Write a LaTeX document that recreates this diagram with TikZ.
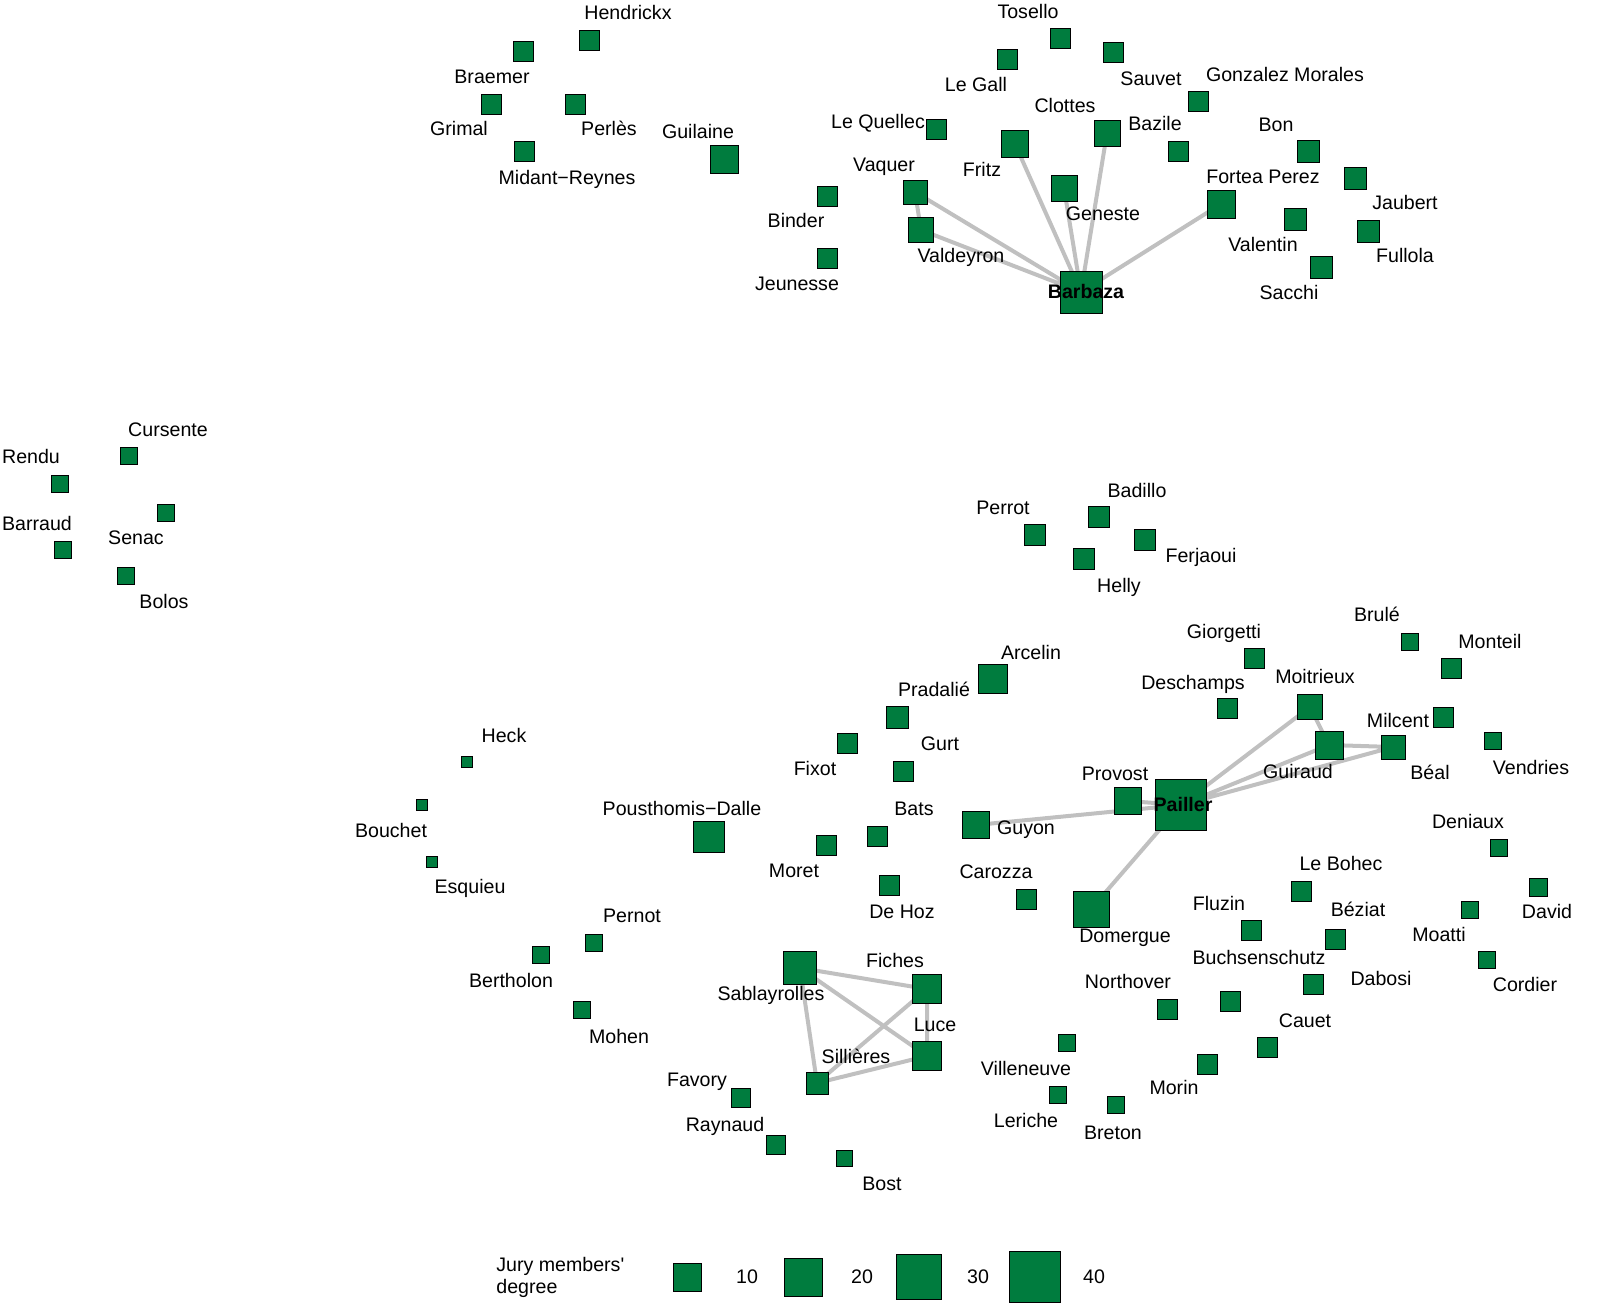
\documentclass[tikz,border=0pt]{standalone}
\usepackage{fontspec}
\setmainfont{Liberation Sans}
\usetikzlibrary{backgrounds}
\definecolor{jurygreen}{RGB}{0,124,62}
\definecolor{tiegray}{RGB}{192,192,192}
\tikzset{
  jury/.style={rectangle, draw=black, line width=0.5pt, fill=jurygreen, inner sep=0pt, minimum size=#1*0.5pt},
  lab/.style={font=\fontsize{9.8}{11}\selectfont, inner sep=0pt, text height=6pt, text depth=0pt},
  boss/.style={lab, font=\fontsize{9.8}{11}\selectfont\bfseries},
  tie/.style={draw=tiegray, line width=2pt}
}
\begin{document}
\begin{tikzpicture}[x=0.5pt, y=-0.5pt]
  \useasboundingbox (0,0) rectangle (1603,1307);

  % Top left group
  \node[jury=20] (hendrickx) at (589,40) {};   \node[lab] at (628,13) {Hendrickx};
  \node[jury=20] (braemer) at (523,51) {};     \node[lab] at (492,77) {Braemer};
  \node[jury=20] (grimal) at (491,104) {};     \node[lab] at (459,129) {Grimal};
  \node[jury=20] (perles) at (575,104) {};     \node[lab] at (609,129) {Perlès};
  \node[jury=20] (midant) at (524,151) {};     \node[lab] at (567,178) {Midant−Reynes};
  \node[jury=28] (guilaine) at (724,159) {};   \node[lab] at (698,132) {Guilaine};
  \node[jury=20] (binder) at (827,196) {};     \node[lab] at (796,221) {Binder};
  \node[jury=20] (jeunesse) at (827,258) {};   \node[lab] at (797,284) {Jeunesse};

  % Barbaza group
  \node[jury=20] (tosello) at (1060,38) {};    \node[lab] at (1028,12) {Tosello};
  \node[jury=20] (legall) at (1007,59) {};     \node[lab] at (976,85) {Le Gall};
  \node[jury=20] (sauvet) at (1113,52) {};     \node[lab] at (1151,79) {Sauvet};
  \node[jury=20] (gonzalez) at (1198,101) {};  \node[lab] at (1285,75) {Gonzalez Morales};
  \node[jury=20] (lequellec) at (936,129) {};  \node[lab] at (878,122) {Le Quellec};
  \node[jury=27] (fritz) at (1015,144) {};     \node[lab] at (982,170) {Fritz};
  \node[jury=26] (clottes) at (1107,133) {};   \node[lab] at (1065,106) {Clottes};
  \node[jury=20] (bazile) at (1178,151) {};    \node[lab] at (1155,124) {Bazile};
  \node[jury=22] (bon) at (1308,151) {};       \node[lab] at (1276,125) {Bon};
  \node[jury=22] (jaubert) at (1355,178) {};   \node[lab] at (1405,203) {Jaubert};
  \node[jury=24] (vaquer) at (915,192) {};     \node[lab] at (884,165) {Vaquer};
  \node[jury=25] (valdeyron) at (921,230) {};  \node[lab] at (961,256) {Valdeyron};
  \node[jury=26] (geneste) at (1064,188) {};   \node[lab] at (1103,214) {Geneste};
  \node[jury=28] (fortea) at (1221,204) {};    \node[lab] at (1263,177) {Fortea Perez};
  \node[jury=22] (valentin) at (1295,219) {};  \node[lab] at (1263,245) {Valentin};
  \node[jury=22] (fullola) at (1368,231) {};   \node[lab] at (1405,256) {Fullola};
  \node[jury=22] (sacchi) at (1321,267) {};    \node[lab] at (1289,293) {Sacchi};
  \node[jury=42] (barbaza) at (1081,292) {};   \node[boss] at (1086,292) {Barbaza};

  % Far left group
  \node[jury=17] (cursente) at (129,456) {};   \node[lab] at (168,430) {Cursente};
  \node[jury=17] (rendu) at (60,484) {};       \node[lab] at (31,457) {Rendu};
  \node[jury=17] (senac) at (166,513) {};      \node[lab] at (136,538) {Senac};
  \node[jury=17] (barraud) at (63,550) {};     \node[lab] at (37,524) {Barraud};
  \node[jury=17] (bolos) at (126,576) {};      \node[lab] at (164,602) {Bolos};

  % Perrot group
  \node[jury=21] (badillo) at (1099,517) {};   \node[lab] at (1137,491) {Badillo};
  \node[jury=21] (perrot) at (1035,535) {};    \node[lab] at (1003,508) {Perrot};
  \node[jury=21] (ferjaoui) at (1145,540) {};  \node[lab] at (1201,556) {Ferjaoui};
  \node[jury=21] (helly) at (1084,559) {};     \node[lab] at (1119,586) {Helly};

  % Pailler group and right side
  \node[jury=17] (brule) at (1410,642) {};     \node[lab] at (1377,615) {Brulé};
  \node[jury=20] (giorgetti) at (1254,658) {}; \node[lab] at (1224,632) {Giorgetti};
  \node[jury=20] (monteil) at (1451,668) {};   \node[lab] at (1490,642) {Monteil};
  \node[jury=29] (arcelin) at (993,679) {};    \node[lab] at (1031,653) {Arcelin};
  \node[jury=22] (pradalie) at (897,717) {};   \node[lab] at (934,690) {Pradalié};
  \node[jury=20] (deschamps) at (1227,708) {}; \node[lab] at (1193,683) {Deschamps};
  \node[jury=25] (moitrieux) at (1310,707) {}; \node[lab] at (1315,677) {Moitrieux};
  \node[jury=20] (milcent) at (1443,717) {};   \node[lab] at (1398,721) {Milcent};
  \node[jury=28] (guiraud) at (1329,745) {};   \node[lab] at (1298,772) {Guiraud};
  \node[jury=24] (beal) at (1393,747) {};      \node[lab] at (1430,773) {Béal};
  \node[jury=17] (vendries) at (1493,741) {};  \node[lab] at (1531,768) {Vendries};
  \node[jury=27] (provost) at (1128,801) {};   \node[lab] at (1115,774) {Provost};
  \node[jury=27] (guyon) at (976,825) {};      \node[lab] at (1026,828) {Guyon};
  \node[jury=17] (deniaux) at (1499,848) {};   \node[lab] at (1468,822) {Deniaux};
  \node[jury=20] (lebohec) at (1301,891) {};   \node[lab] at (1341,864) {Le Bohec};
  \node[jury=20] (carozza) at (1026,899) {};   \node[lab] at (996,872) {Carozza};
  \node[jury=36] (domergue) at (1091,909) {};  \node[lab] at (1125,936) {Domergue};
  \node[jury=18] (david) at (1538,887) {};     \node[lab] at (1547,912) {David};
  \node[jury=20] (fluzin) at (1251,930) {};    \node[lab] at (1219,904) {Fluzin};
  \node[jury=20] (beziat) at (1335,939) {};    \node[lab] at (1358,910) {Béziat};
  \node[jury=17] (moatti) at (1470,910) {};    \node[lab] at (1439,935) {Moatti};
  \node[jury=20] (buchsenschutz) at (1230,1001) {}; \node[lab] at (1259,958) {Buchsenschutz};
  \node[jury=20] (dabosi) at (1313,984) {};    \node[lab] at (1381,979) {Dabosi};
  \node[jury=17] (cordier) at (1487,960) {};   \node[lab] at (1525,985) {Cordier};
  \node[jury=20] (northover) at (1167,1009) {}; \node[lab] at (1128,982) {Northover};
  \node[jury=20] (cauet) at (1267,1047) {};    \node[lab] at (1305,1021) {Cauet};
  \node[jury=17] (villeneuve) at (1067,1043) {}; \node[lab] at (1026,1069) {Villeneuve};
  \node[jury=20] (morin) at (1207,1064) {};    \node[lab] at (1174,1088) {Morin};
  \node[jury=17] (leriche) at (1058,1095) {};  \node[lab] at (1026,1121) {Leriche};
  \node[jury=17] (breton) at (1116,1105) {};   \node[lab] at (1113,1133) {Breton};
  \node[jury=51] (pailler) at (1181,805) {};   \node[boss] at (1183,805) {Pailler};

  % Middle and lower left
  \node[jury=11] (heck) at (467,762) {};       \node[lab] at (504,736) {Heck};
  \node[jury=20] (fixot) at (847,743) {};      \node[lab] at (815,769) {Fixot};
  \node[jury=20] (gurt) at (903,771) {};       \node[lab] at (940,744) {Gurt};
  \node[jury=11] (bouchet) at (422,805) {};    \node[lab] at (391,831) {Bouchet};
  \node[jury=31] (pousthomis) at (709,837) {}; \node[lab] at (682,809) {Pousthomis−Dalle};
  \node[jury=20] (bats) at (877,836) {};       \node[lab] at (914,809) {Bats};
  \node[jury=20] (moret) at (826,845) {};      \node[lab] at (794,871) {Moret};
  \node[jury=11] (esquieu) at (432,862) {};    \node[lab] at (470,887) {Esquieu};
  \node[jury=20] (dehoz) at (889,885) {};      \node[lab] at (902,912) {De Hoz};
  \node[jury=17] (pernot) at (594,943) {};     \node[lab] at (632,916) {Pernot};
  \node[jury=17] (bertholon) at (541,955) {};  \node[lab] at (511,981) {Bertholon};
  \node[jury=17] (mohen) at (582,1010) {};     \node[lab] at (619,1037) {Mohen};
  \node[jury=33] (sablayrolles) at (800,968) {}; \node[lab] at (771,994) {Sablayrolles};
  \node[jury=29] (fiches) at (927,989) {};     \node[lab] at (895,961) {Fiches};
  \node[jury=29] (luce) at (927,1056) {};      \node[lab] at (935,1025) {Luce};
  \node[jury=22] (sillieres) at (817,1083) {}; \node[lab] at (856,1057) {Sillières};
  \node[jury=19] (favory) at (741,1098) {};    \node[lab] at (697,1080) {Favory};
  \node[jury=19] (raynaud) at (776,1145) {};   \node[lab] at (725,1125) {Raynaud};
  \node[jury=16] (bost) at (844,1158) {};      \node[lab] at (882,1184) {Bost};

  % Ties, behind the squares
  \begin{scope}[on background layer]
    \draw[tie] (barbaza.center) -- (vaquer.center) -- (valdeyron.center) -- (barbaza.center);
    \draw[tie] (barbaza.center) -- (fritz.center);
    \draw[tie] (barbaza.center) -- (geneste.center);
    \draw[tie] (barbaza.center) -- (clottes.center);
    \draw[tie] (barbaza.center) -- (fortea.center);
    \draw[tie] (pailler.center) -- (guyon.center);
    \draw[tie] (pailler.center) -- (provost.center);
    \draw[tie] (pailler.center) -- (moitrieux.center) -- (guiraud.center);
    \draw[tie] (pailler.center) -- (guiraud.center) -- (beal.center) -- (pailler.center);
    \draw[tie] (pailler.center) -- (domergue.center);
    \draw[tie] (sablayrolles.center) -- (fiches.center) -- (luce.center) -- (sillieres.center) -- (sablayrolles.center);
    \draw[tie] (sablayrolles.center) -- (luce.center);
    \draw[tie] (fiches.center) -- (sillieres.center);
  \end{scope}

  % Legend
  \node[lab, text height=, text depth=, align=left, anchor=west] (legtitle) at (496,1277) {Jury members\textquotesingle\\degree};
  \node[jury=28] (leg10) at (687,1277) {}; \node[lab] at (747,1277) {10};
  \node[jury=38] (leg20) at (803,1277) {}; \node[lab] at (862,1277) {20};
  \node[jury=45] (leg30) at (919,1277) {}; \node[lab] at (978,1277) {30};
  \node[jury=51] (leg40) at (1035,1277) {}; \node[lab] at (1094,1277) {40};
\end{tikzpicture}
\end{document}
